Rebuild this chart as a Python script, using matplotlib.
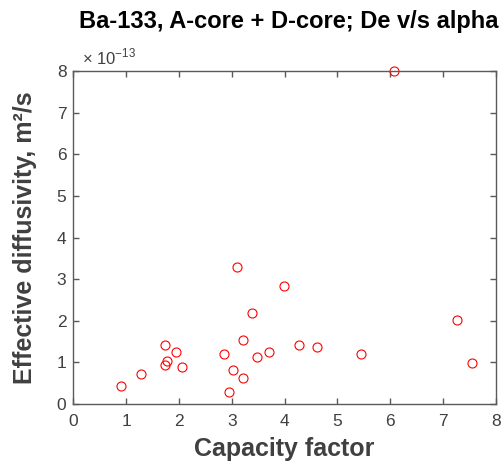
import matplotlib.pyplot as plt
import numpy as np

plt.rcParams['font.family'] = ['Liberation Sans', 'DejaVu Sans']

# capacity factor (alpha) and effective diffusivity (m^2/s)
alpha = [0.90, 1.28, 1.74, 1.77, 1.74, 1.95, 2.06, 2.86, 2.94, 3.03, 3.22,
         3.22, 3.38, 3.47, 3.71, 4.27, 4.62, 5.45, 6.08, 7.27, 7.56, 3.10, 3.99]
De = [0.43e-13, 0.72e-13, 1.43e-13, 1.04e-13, 0.94e-13, 1.24e-13, 0.88e-13,
      1.20e-13, 0.30e-13, 0.81e-13, 0.62e-13, 1.55e-13, 2.20e-13, 1.14e-13,
      1.24e-13, 1.41e-13, 1.37e-13, 1.20e-13, 8.0e-13, 2.03e-13, 0.98e-13,
      3.29e-13, 2.84e-13]

fig = plt.figure(figsize=(5.04, 4.61), dpi=100)
ax = fig.add_axes([0.1455, 0.1236, 0.838, 0.7217])

ax.plot(alpha, De, 'o', mfc='none', mec='r', ms=6.5, mew=0.8, clip_on=False)

ax.set_xlim(0, 8)
ax.set_ylim(0, 8e-13)
ax.set_xticks(np.arange(0, 9, 1))
ax.set_yticks(np.arange(0, 9, 1) * 1e-13)
ax.set_yticklabels([str(i) for i in range(9)])

gray = '#404040'
for s in ax.spines.values():
    s.set_color('#5a5a5a')
    s.set_linewidth(1.0)
ax.tick_params(direction='in', top=True, right=True, length=4.5, width=1.0,
               colors='#5a5a5a', labelcolor=gray, labelsize=12.5)
ax.tick_params(axis='x', pad=7)
ax.tick_params(axis='y', pad=5)

# exponent label, MATLAB style
ax.text(0.02, 1.012, '× 10$^{\\mathregular{-13}}$', transform=ax.transAxes,
        fontsize=12, color=gray, ha='left', va='bottom')

ax.set_xlabel('Capacity factor', fontsize=18, fontweight='bold', color=gray, labelpad=6)
ax.set_ylabel('Effective diffusivity, m²/s', fontsize=18, fontweight='bold', color=gray, labelpad=14)
ax.set_title('Ba-133, A-core + D-core; De v/s alpha', fontsize=17, fontweight='bold', pad=31,
             x=0.51)

fig.savefig('out.png', dpi=100)
